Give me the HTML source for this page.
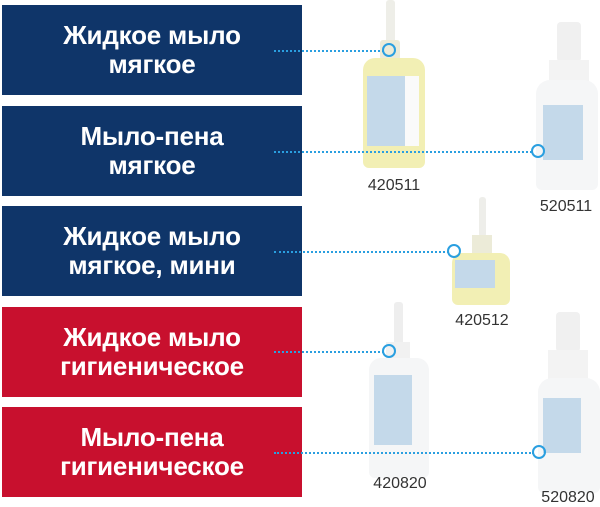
<!DOCTYPE html>
<html><head><meta charset="utf-8"><style>
body{margin:0;width:600px;height:506px;background:#fff;position:relative;overflow:hidden;font-family:"Liberation Sans","DejaVu Sans",sans-serif}
.b{position:absolute;left:2px;width:300px;height:90px;color:#fff;font-weight:bold;font-size:26px;line-height:29px;display:flex;align-items:center;justify-content:center;text-align:center;letter-spacing:-0.2px}
.n{background:#0f3569}.r{background:#c8102e}
.l{position:absolute;height:0;border-top:2px dotted #2a9fe0}
.c{position:absolute;width:14px;height:14px;border:2px solid #2a9fe0;border-radius:50%;box-sizing:border-box}
.t{position:absolute;font-size:16px;color:#333;transform:translateX(-50%)}
.a{position:absolute;box-sizing:border-box}
</style></head><body>
<div class="a" style="left:386px;top:0;width:9px;height:45px;background:#eeeee8;border-radius:3px"></div>
<div class="a" style="left:380px;top:40px;width:20px;height:20px;background:#ecebd8;border-radius:3px"></div>
<div class="a" style="left:363px;top:58px;width:62px;height:110px;background:#f2efb4;border-radius:12px 12px 6px 6px"></div>
<div class="a" style="left:367px;top:76px;width:52px;height:70px;background:#fafafa"></div>
<div class="a" style="left:367px;top:76px;width:38px;height:70px;background:#c4d9ea"></div>

<div class="a" style="left:557px;top:22px;width:24px;height:40px;background:#f0f0f0;border-radius:4px"></div>
<div class="a" style="left:549px;top:60px;width:40px;height:22px;background:#f3f3f3"></div>
<div class="a" style="left:536px;top:80px;width:62px;height:110px;background:#f5f6f7;border-radius:14px 14px 6px 6px"></div>
<div class="a" style="left:543px;top:105px;width:40px;height:55px;background:#c4d9ea"></div>

<div class="a" style="left:479px;top:197px;width:7px;height:40px;background:#eeeeea;border-radius:3px"></div>
<div class="a" style="left:472px;top:235px;width:20px;height:18px;background:#ecebd8"></div>
<div class="a" style="left:452px;top:253px;width:58px;height:52px;background:#f2efb4;border-radius:10px 10px 6px 6px"></div>
<div class="a" style="left:455px;top:260px;width:40px;height:28px;background:#c4d9ea"></div>

<div class="a" style="left:394px;top:302px;width:9px;height:45px;background:#eeeeee;border-radius:3px"></div>
<div class="a" style="left:386px;top:342px;width:24px;height:18px;background:#f1f1f1"></div>
<div class="a" style="left:369px;top:358px;width:60px;height:120px;background:#f5f6f7;border-radius:12px 12px 6px 6px"></div>
<div class="a" style="left:374px;top:375px;width:38px;height:70px;background:#c4d9ea"></div>

<div class="a" style="left:556px;top:312px;width:24px;height:40px;background:#f0f0f0;border-radius:4px"></div>
<div class="a" style="left:548px;top:350px;width:40px;height:30px;background:#f3f3f3"></div>
<div class="a" style="left:538px;top:378px;width:62px;height:115px;background:#f5f6f7;border-radius:14px 14px 6px 6px"></div>
<div class="a" style="left:543px;top:398px;width:38px;height:55px;background:#c4d9ea"></div>

<div class="b n" style="top:5px">Жидкое мыло<br>мягкое</div>
<div class="b n" style="top:106px">Мыло-пена<br>мягкое</div>
<div class="b n" style="top:206px">Жидкое мыло<br>мягкое, мини</div>
<div class="b r" style="top:307px">Жидкое мыло<br>гигиеническое</div>
<div class="b r" style="top:407px">Мыло-пена<br>гигиеническое</div>

<div class="l" style="left:274px;top:50px;width:110px"></div><div class="c" style="left:382px;top:43px"></div>
<div class="l" style="left:274px;top:151px;width:258px"></div><div class="c" style="left:531px;top:144px"></div>
<div class="l" style="left:274px;top:251px;width:175px"></div><div class="c" style="left:447px;top:244px"></div>
<div class="l" style="left:274px;top:351px;width:110px"></div><div class="c" style="left:382px;top:344px"></div>
<div class="l" style="left:274px;top:452px;width:260px"></div><div class="c" style="left:532px;top:445px"></div>

<div class="t" style="left:394px;top:177px">420511</div>
<div class="t" style="left:566px;top:198px">520511</div>
<div class="t" style="left:482px;top:312px">420512</div>
<div class="t" style="left:400px;top:475px">420820</div>
<div class="t" style="left:568px;top:489px">520820</div>
</body></html>
